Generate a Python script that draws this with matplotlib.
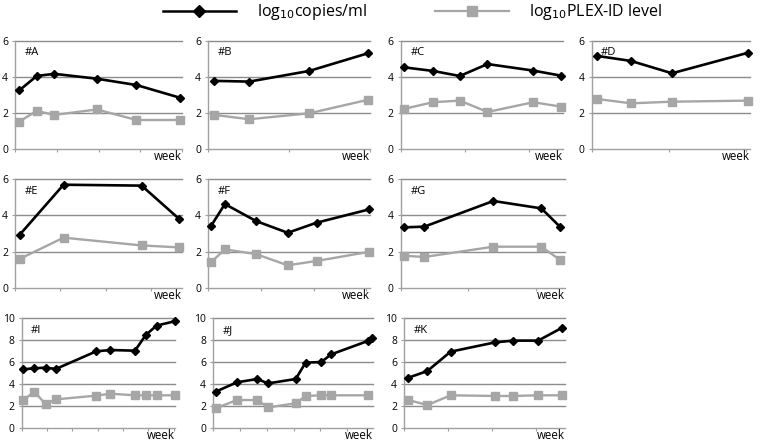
import matplotlib.pyplot as plt
from matplotlib.lines import Line2D

plt.rcParams['font.family'] = ['Open Sans', 'DejaVu Sans']

BLACK = '#000000'
GRAY = '#a6a6a6'
AXC = '#8c8c8c'

# panel data: x positions (in tick units), copies/ml (log10), PLEX-ID level (log10)
names = ['#A', '#B', '#C', '#D', '#E', '#F', '#G', '#I', '#J', '#K']

x_A = [0.1, 0.52, 0.94, 1.96, 2.91, 3.95]
cp_A = [3.25, 4.05, 4.17, 3.9, 3.55, 2.85]
px_A = [1.53, 2.12, 1.9, 2.2, 1.62, 1.62]

x_B = [0.08, 0.51, 1.25, 1.97]
cp_B = [3.78, 3.74, 4.33, 5.3]
px_B = [1.9, 1.66, 1.99, 2.73]

x_C = [0.05, 0.5, 0.92, 1.35, 2.06, 2.49]
cp_C = [4.53, 4.33, 4.05, 4.71, 4.35, 4.07]
px_C = [2.23, 2.6, 2.69, 2.06, 2.6, 2.36]

x_D = [0.07, 0.51, 1.04, 2.03]
cp_D = [5.16, 4.88, 4.2, 5.34]
px_D = [2.78, 2.54, 2.63, 2.69]

x_E = [0.1, 1.07, 2.79, 3.62]
cp_E = [2.92, 5.7, 5.65, 3.8]
px_E = [1.59, 2.77, 2.34, 2.23]

x_F = [0.06, 0.32, 0.91, 1.51, 2.06, 3.06]
cp_F = [3.43, 4.63, 3.69, 3.04, 3.6, 4.34]
px_F = [1.42, 2.12, 1.86, 1.24, 1.48, 1.99]

x_G = [0.05, 0.35, 1.37, 2.08, 2.36]
cp_G = [3.34, 3.38, 4.8, 4.39, 3.36]
px_G = [1.77, 1.7, 2.27, 2.27, 1.53]

x_I = [0.07, 0.5, 0.94, 1.35, 2.94, 3.5, 4.47, 4.9, 5.32, 6.04]
cp_I = [5.34, 5.43, 5.49, 5.37, 6.98, 7.1, 7.04, 8.48, 9.33, 9.73]
px_I = [2.53, 3.29, 2.16, 2.59, 2.93, 3.11, 2.96, 2.96, 2.96, 2.96]

x_J = [0.1, 0.89, 1.65, 2.05, 3.08, 3.45, 4.03, 4.4, 5.77, 5.93]
cp_J = [3.29, 4.15, 4.45, 4.05, 4.45, 5.95, 6.0, 6.7, 7.93, 8.23]
px_J = [1.77, 2.53, 2.53, 1.86, 2.23, 2.9, 2.96, 2.96, 2.96]

x_K = [0.1, 0.53, 1.06, 2.07, 2.48, 3.05, 3.6]
cp_K = [4.57, 5.18, 6.95, 7.8, 7.96, 7.96, 9.15]
px_K = [2.53, 2.07, 2.96, 2.9, 2.9, 2.96, 2.96]

xs = [x_A, x_B, x_C, x_D, x_E, x_F, x_G, x_I, x_J, x_K]
cps = [cp_A, cp_B, cp_C, cp_D, cp_E, cp_F, cp_G, cp_I, cp_J, cp_K]
pxs = [px_A, px_B, px_C, px_D, px_E, px_F, px_G, px_I, px_J, px_K]
xmax = [4.0, 2.0, 2.52, 2.05, 3.68, 3.07, 2.43, 6.05, 5.96, 3.66]
ymax = [6, 6, 6, 6, 6, 6, 6, 10, 10, 10]

# axes boxes in pixels: (x_left, x_right, y_top, y_bottom)
W, H = 760, 441
boxes = [
    (15, 182, 40.7, 149.3), (208, 370, 40.7, 149.3),
    (400.7, 562.7, 40.7, 149.3), (591.7, 750, 40.7, 149.3),
    (15, 182, 179.3, 287.7), (208, 370, 179.3, 287.7),
    (400.7, 565, 179.3, 287.7),
    (21.7, 175, 318.3, 427.7), (213, 373, 318.3, 427.7),
    (404, 565, 318.3, 427.7),
]

fig = plt.figure(figsize=(7.6, 4.41), dpi=100)

for i, (x0, x1, yt, yb) in enumerate(boxes):
    ax = fig.add_axes([x0 / W, 1 - yb / H, (x1 - x0) / W, (yb - yt) / H])
    ax.set_xlim(0, xmax[i])
    ax.set_ylim(0, ymax[i])
    ax.set_yticks(range(0, ymax[i] + 1, 2))
    ax.set_xticks(range(0, int(xmax[i]) + 1))
    ax.set_xticklabels([])
    for y in range(2, ymax[i] + 1, 2):
        ax.axhline(y, color=AXC, lw=1.0, zorder=1, clip_on=False)
    for s in ['top', 'right']:
        ax.spines[s].set_visible(False)
    for s in ['left', 'bottom']:
        ax.spines[s].set_color('#a0a0a0')
        ax.spines[s].set_linewidth(1.0)
    ax.tick_params(axis='both', direction='out', length=2.5, width=0.8,
                   color='#a0a0a0', labelsize=7.5, pad=2.5)
    ax.patch.set_alpha(0)

    ax.plot(xs[i][:len(pxs[i])], pxs[i], color=GRAY, lw=1.7, marker='s',
            ms=6, mfc=GRAY, mec=GRAY, zorder=3, clip_on=False)
    ax.plot(xs[i], cps[i], color=BLACK, lw=1.9, marker='D', ms=4,
            mfc=BLACK, mec=BLACK, zorder=4, clip_on=False)

    ax.text(0.06, 0.94, names[i], transform=ax.transAxes, fontsize=8,
            ha='left', va='top')
    ax.text(1.0, -0.008, 'week', transform=ax.transAxes, fontsize=8.3,
            ha='right', va='top')

# legend at top
h1 = Line2D([], [], color=BLACK, lw=1.8, marker='D', ms=6)
h2 = Line2D([], [], color=GRAY, lw=1.6, marker='s', ms=7)
fig.legend([h1, h2], ['log$_{10}$copies/ml', 'log$_{10}$PLEX-ID level'],
           loc='center', bbox_to_anchor=(0.543, 0.972), ncol=2, frameon=False,
           fontsize=11.5, handlelength=4.6, columnspacing=4.25, handletextpad=1.3)

fig.savefig('out.png', dpi=100)
